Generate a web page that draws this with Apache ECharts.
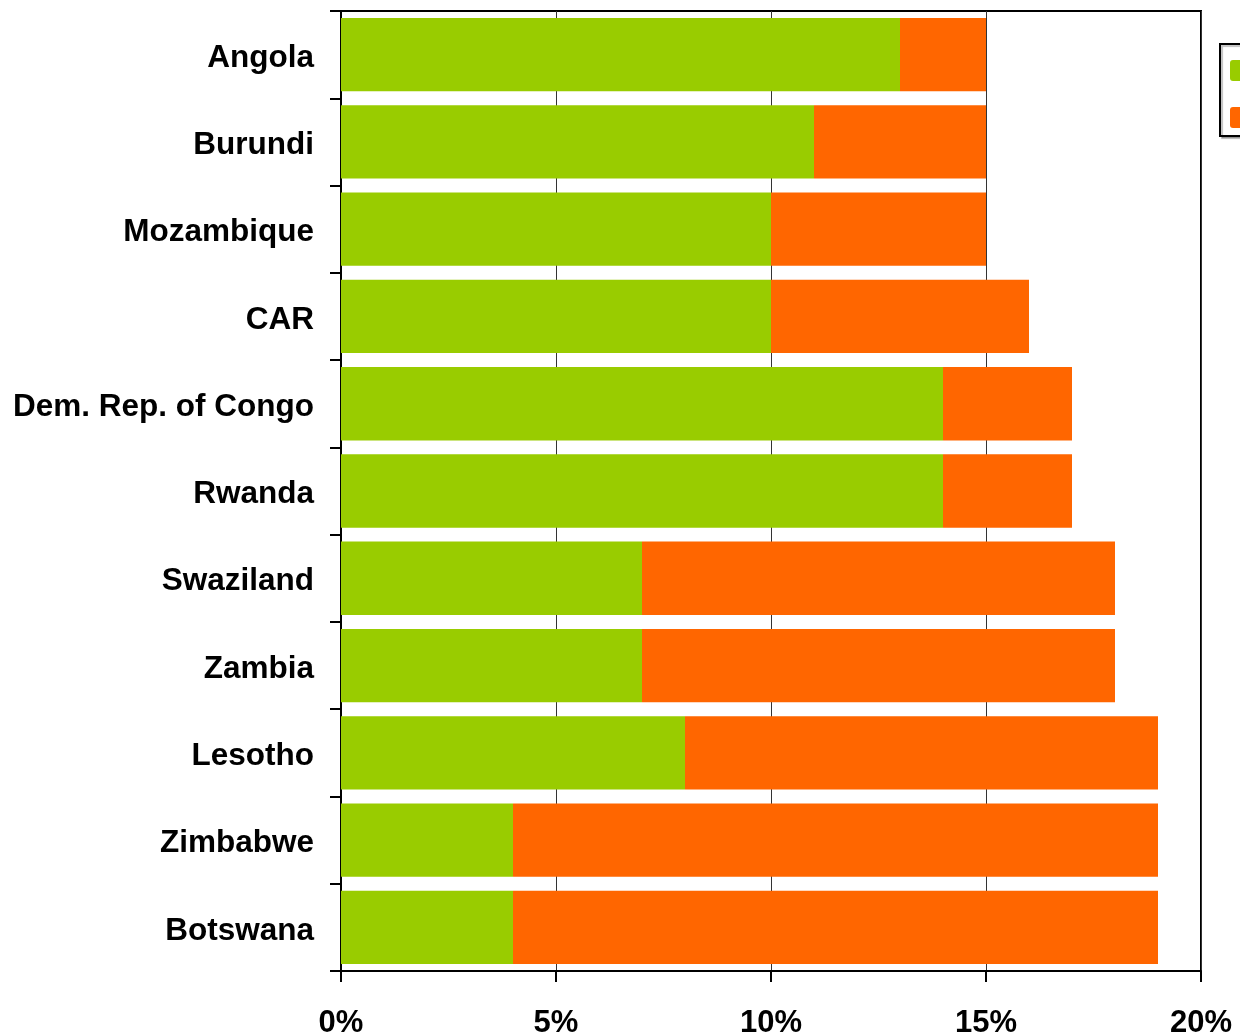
<!DOCTYPE html>
<html>
<head>
<meta charset="utf-8">
<script src="https://cdn.jsdelivr.net/npm/echarts@6/dist/echarts.min.js"></script>
<style>
  html, body { margin: 0; padding: 0; background: #fff; }
  #chart { width: 1240px; height: 1035px; }
</style>
</head>
<body>
<div id="chart"></div>
<script>
const countries = ['Angola', 'Burundi', 'Mozambique', 'CAR', 'Dem. Rep. of Congo', 'Rwanda',
  'Swaziland', 'Zambia', 'Lesotho', 'Zimbabwe', 'Botswana'];
const otherCauses = [13, 11, 10, 10, 14, 14, 7, 7, 8, 4, 4];
const dueToAids = [2, 4, 5, 6, 3, 3, 11, 11, 11, 15, 15];
const seriesNames = ['Orphans due to other causes', 'Orphans due to AIDS'];
const xTicks = [0, 5, 10, 15, 20];

const chart = echarts.init(document.getElementById('chart'));

chart.setOption({
  animation: false,
  textStyle: { fontFamily: 'Liberation Sans, Arial, sans-serif' },
  grid: {
    left: 341, right: 39, top: 11, bottom: 64,
    outerBoundsMode: 'none', containLabel: false,
    show: true, borderColor: '#000', borderWidth: 2
  },
  legend: {
    orient: 'vertical',
    left: 1220, top: 44,
    padding: [16, 10, 8, 10],
    itemWidth: 12, itemHeight: 21, itemGap: 26,
    borderColor: '#000', borderWidth: 2,
    shadowColor: 'rgba(0,0,0,0.25)', shadowOffsetX: 2, shadowOffsetY: 2, shadowBlur: 1,
    backgroundColor: '#fff',
    textStyle: { fontSize: 20, fontWeight: 'bold', color: '#000' },
    data: seriesNames
  },
  xAxis: {
    type: 'value',
    min: xTicks[0], max: xTicks[xTicks.length - 1], interval: 5,
    axisLine: { show: true, lineStyle: { color: '#000', width: 2 } },
    axisTick: { show: true, length: 11, lineStyle: { color: '#000', width: 2 } },
    splitLine: { show: true, lineStyle: { color: '#333', width: 1 } },
    axisLabel: {
      formatter: '{value}%', margin: 37,
      fontSize: 31, fontWeight: 'bold', color: '#000'
    }
  },
  yAxis: {
    type: 'category',
    inverse: true,
    data: countries,
    axisLine: { show: true, lineStyle: { color: '#000', width: 2 } },
    axisTick: { show: true, length: 11, lineStyle: { color: '#000', width: 2 } },
    axisLabel: {
      margin: 27, fontSize: 31.5, fontWeight: 'bold', color: '#000',
      formatter: v => '{c|' + v + '}',
      rich: { c: { fontSize: 31.5, fontWeight: 'bold', color: '#000', padding: [7, 0, 0, 0] } }
    }
  },
  series: [
    {
      name: seriesNames[0], type: 'bar', stack: 'total',
      barCategoryGap: '16%',
      itemStyle: { color: '#99CC00' },
      data: otherCauses
    },
    {
      name: seriesNames[1], type: 'bar', stack: 'total',
      barCategoryGap: '16%',
      itemStyle: { color: '#FF6600' },
      data: dueToAids
    }
  ]
});
</script>
</body>
</html>
